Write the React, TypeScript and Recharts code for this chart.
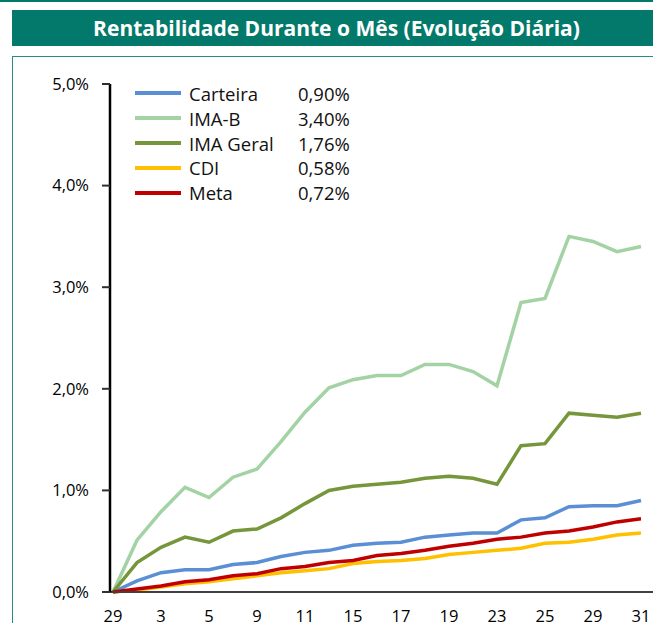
import { Line, LineChart, XAxis, YAxis } from "recharts";

const TEAL = "#03796b";
const FONT = "'Open Sans', 'Noto Sans', sans-serif";

// business days, 29 Dec -> 31 Jan
const DAYS = ["29", "2", "3", "4", "5", "8", "9", "10", "11", "12", "15", "16", "17", "18", "19", "22", "23", "24", "25", "26", "29", "30", "31"];

// accumulated return in %
const CARTEIRA = [0, 0.11, 0.19, 0.22, 0.22, 0.27, 0.29, 0.35, 0.39, 0.41, 0.46, 0.48, 0.49, 0.54, 0.56, 0.58, 0.58, 0.71, 0.73, 0.84, 0.85, 0.85, 0.9];
const IMA_B = [0, 0.51, 0.79, 1.03, 0.93, 1.13, 1.21, 1.48, 1.77, 2.01, 2.09, 2.13, 2.13, 2.24, 2.24, 2.17, 2.03, 2.85, 2.89, 3.5, 3.45, 3.35, 3.4];
const IMA_GERAL = [0, 0.29, 0.44, 0.54, 0.49, 0.6, 0.62, 0.73, 0.87, 1.0, 1.04, 1.06, 1.08, 1.12, 1.14, 1.12, 1.06, 1.44, 1.46, 1.76, 1.74, 1.72, 1.76];
const CDI = [0, 0.02, 0.05, 0.08, 0.1, 0.13, 0.16, 0.19, 0.21, 0.23, 0.28, 0.3, 0.31, 0.33, 0.37, 0.39, 0.41, 0.43, 0.48, 0.49, 0.52, 0.56, 0.58];
const META = [0, 0.03, 0.06, 0.1, 0.12, 0.16, 0.18, 0.23, 0.25, 0.29, 0.31, 0.36, 0.38, 0.41, 0.45, 0.48, 0.52, 0.54, 0.58, 0.6, 0.64, 0.69, 0.72];

const Y_TICKS = [0, 1, 2, 3, 4, 5];

const SERIES = [
  { key: "carteira", name: "Carteira", color: "#5b8fd5", values: CARTEIRA },
  { key: "imab", name: "IMA-B", color: "#a3d2a4", values: IMA_B },
  { key: "imageral", name: "IMA Geral", color: "#76963b", values: IMA_GERAL },
  { key: "cdi", name: "CDI", color: "#ffc000", values: CDI },
  { key: "meta", name: "Meta", color: "#c00000", values: META },
];

const data = DAYS.map((day, i) => {
  const row: Record<string, string | number> = { day };
  SERIES.forEach((s) => (row[s.key] = s.values[i]));
  return row;
});

function pct(v: number, digits: number): string {
  return `${v.toFixed(digits).replace(".", ",")}%`;
}

export default function App() {
  return (
    <div
      style={{
        position: "absolute",
        left: 0,
        top: 0,
        width: 653,
        height: 623,
        overflow: "hidden",
        background: "#fff",
        fontFamily: FONT,
      }}
    >
      <div style={{ position: "absolute", left: 0, top: 0, width: 653, height: 1.5, background: TEAL }} />
      <div style={{ position: "absolute", left: 12, top: 10, width: 700, height: 36, background: TEAL }} />
      <div
        style={{
          position: "absolute",
          left: 12,
          top: 10,
          width: 649,
          height: 36,
          lineHeight: "36px",
          textAlign: "center",
          color: "#fff",
          fontWeight: 700,
          fontSize: 21,
          whiteSpace: "nowrap",
        }}
      >
        Rentabilidade Durante o Mês (Evolução Diária)
      </div>
      <div
        style={{
          position: "absolute",
          left: 12,
          top: 56,
          width: 700,
          height: 620,
          border: "1.5px solid #2a8c80",
          boxSizing: "border-box",
        }}
      />

      <LineChart
        width={653}
        height={623}
        data={data}
        margin={{ top: 84, right: 0, bottom: 0, left: 0 }}
        style={{ position: "absolute", left: 0, top: 0 }}
      >
        <XAxis
          dataKey="day"
          interval={1}
          height={31}
          padding={{ left: 3, right: 12 }}
          axisLine={{ stroke: "#404040", strokeWidth: 2 }}
          tickLine={false}
          tickSize={0}
          tickMargin={18}
          tick={{ fill: "#000", fontSize: 16.5, fontFamily: FONT }}
        />
        <YAxis
          domain={[0, 5]}
          ticks={Y_TICKS}
          width={110}
          axisLine={{ stroke: "#000", strokeWidth: 2.5 }}
          tickLine={{ stroke: "#303030", strokeWidth: 2 }}
          tickSize={8}
          tickMargin={13}
          tickFormatter={(v: number) => pct(v, 1)}
          tick={{ fill: "#000", fontSize: 16.5, fontFamily: FONT }}
        />
        {SERIES.map((s) => (
          <Line
            key={s.key}
            type="linear"
            dataKey={s.key}
            name={s.name}
            stroke={s.color}
            strokeWidth={3.5}
            dot={false}
            activeDot={false}
            isAnimationActive={false}
          />
        ))}
      </LineChart>

      <div style={{ position: "absolute", left: 135, top: 81, fontSize: 18.5, color: "#111" }}>
        {SERIES.map((s) => (
          <div key={s.key} style={{ display: "flex", alignItems: "center", height: 24.8 }}>
            <span style={{ width: 46, height: 4, background: s.color, marginRight: 8 }} />
            <span style={{ width: 109 }}>{s.name}</span>
            <span>{pct(s.values[s.values.length - 1], 2)}</span>
          </div>
        ))}
      </div>
    </div>
  );
}
